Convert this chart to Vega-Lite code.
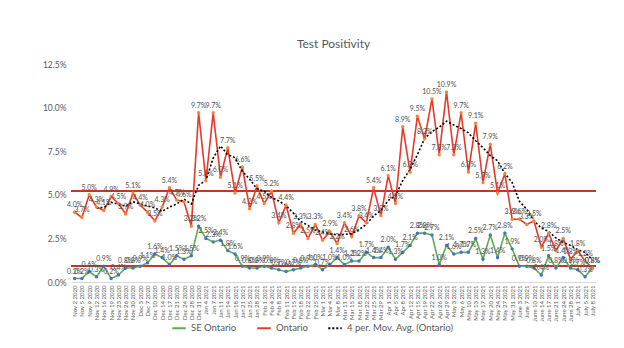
{
  "$schema": "https://vega.github.io/schema/vega-lite/v6.json",
  "autosize": {"type": "none"},
  "width": 525,
  "height": 218,
  "padding": {"left": 71, "top": 64, "right": 28, "bottom": 66},
  "background": "white",
  "title": {"text": "Test Positivity", "fontSize": 12, "font": "Lato", "fontWeight": "normal", "color": "#595959", "offset": 9},
  "data": {"values": [
    {"d":"Nov 2 2020","se":0.002,"on":0.040,"ma":null},
    {"d":"Nov 5 2020","se":0.002,"on":0.037,"ma":null},
    {"d":"Nov 9 2020","se":0.006,"on":0.050,"ma":null},
    {"d":"Nov 12 2020","se":0.003,"on":0.043,"ma":0.0425},
    {"d":"Nov 16 2020","se":0.009,"on":0.041,"ma":0.04275},
    {"d":"Nov 19 2020","se":0.002,"on":0.049,"ma":0.04575},
    {"d":"Nov 23 2020","se":0.004,"on":0.045,"ma":0.0445},
    {"d":"Nov 26 2020","se":0.008,"on":0.039,"ma":0.0435},
    {"d":"Nov 30 2020","se":0.008,"on":0.051,"ma":0.046},
    {"d":"Dec 3 2020","se":0.009,"on":0.044,"ma":0.04475},
    {"d":"Dec 7 2020","se":0.011,"on":0.040,"ma":0.0435},
    {"d":"Dec 10 2020","se":0.016,"on":0.035,"ma":0.0425},
    {"d":"Dec 14 2020","se":0.014,"on":0.043,"ma":0.0405},
    {"d":"Dec 17 2020","se":0.010,"on":0.054,"ma":0.043},
    {"d":"Dec 21 2020","se":0.015,"on":0.047,"ma":0.04475},
    {"d":"Dec 24 2020","se":0.013,"on":0.046,"ma":0.0475},
    {"d":"Dec 28 2020","se":0.015,"on":0.032,"ma":0.04475},
    {"d":"Dec 31 2020","se":0.032,"on":0.097,"ma":0.0555},
    {"d":"Jan 4 2021","se":0.025,"on":0.058,"ma":0.05825},
    {"d":"Jan 7 2021","se":0.023,"on":0.097,"ma":0.071},
    {"d":"Jan 11 2021","se":0.024,"on":0.060,"ma":0.078},
    {"d":"Jan 14 2021","se":0.018,"on":0.077,"ma":0.073},
    {"d":"Jan 18 2021","se":0.016,"on":0.051,"ma":0.07125},
    {"d":"Jan 21 2021","se":0.009,"on":0.066,"ma":0.0635},
    {"d":"Jan 25 2021","se":0.008,"on":0.042,"ma":0.059},
    {"d":"Jan 28 2021","se":0.008,"on":0.055,"ma":0.0535},
    {"d":"Feb 1 2021","se":0.009,"on":0.045,"ma":0.052},
    {"d":"Feb 4 2021","se":0.008,"on":0.052,"ma":0.0485},
    {"d":"Feb 8 2021","se":0.007,"on":0.034,"ma":0.0465},
    {"d":"Feb 11 2021","se":0.006,"on":0.044,"ma":0.04375},
    {"d":"Feb 15 2021","se":0.007,"on":0.028,"ma":0.0395},
    {"d":"Feb 18 2021","se":0.008,"on":0.033,"ma":0.03475},
    {"d":"Feb 22 2021","se":0.009,"on":0.025,"ma":0.0325},
    {"d":"Feb 25 2021","se":0.010,"on":0.033,"ma":0.02975},
    {"d":"Mar 1 2021","se":0.007,"on":0.024,"ma":0.02875},
    {"d":"Mar 4 2021","se":0.010,"on":0.029,"ma":0.02775},
    {"d":"Mar 8 2021","se":0.014,"on":0.022,"ma":0.027},
    {"d":"Mar 11 2021","se":0.010,"on":0.034,"ma":0.02725},
    {"d":"Mar 15 2021","se":0.012,"on":0.026,"ma":0.02775},
    {"d":"Mar 18 2021","se":0.012,"on":0.038,"ma":0.030},
    {"d":"Mar 22 2021","se":0.017,"on":0.034,"ma":0.033},
    {"d":"Mar 25 2021","se":0.014,"on":0.054,"ma":0.038},
    {"d":"Mar 29 2021","se":0.014,"on":0.038,"ma":0.041},
    {"d":"Apr 1 2021","se":0.020,"on":0.061,"ma":0.04675},
    {"d":"Apr 5 2021","se":0.013,"on":0.045,"ma":0.0495},
    {"d":"Apr 8 2021","se":0.017,"on":0.089,"ma":0.05825},
    {"d":"Apr 12 2021","se":0.021,"on":0.063,"ma":0.0645},
    {"d":"Apr 15 2021","se":0.028,"on":0.095,"ma":0.073},
    {"d":"Apr 19 2021","se":0.028,"on":0.082,"ma":0.08225},
    {"d":"Apr 22 2021","se":0.027,"on":0.105,"ma":0.08625},
    {"d":"Apr 26 2021","se":0.010,"on":0.073,"ma":0.08875},
    {"d":"Apr 29 2021","se":0.021,"on":0.109,"ma":0.09225},
    {"d":"May 3 2021","se":0.016,"on":0.073,"ma":0.090},
    {"d":"May 6 2021","se":0.017,"on":0.097,"ma":0.088},
    {"d":"May 10 2021","se":0.017,"on":0.063,"ma":0.0855},
    {"d":"May 13 2021","se":0.025,"on":0.091,"ma":0.081},
    {"d":"May 17 2021","se":0.013,"on":0.057,"ma":0.077},
    {"d":"May 20 2021","se":0.027,"on":0.079,"ma":0.0725},
    {"d":"May 24 2021","se":0.014,"on":0.051,"ma":0.0695},
    {"d":"May 27 2021","se":0.028,"on":0.062,"ma":0.06225},
    {"d":"May 31 2021","se":0.019,"on":0.036,"ma":0.057},
    {"d":"June 3 2021","se":0.009,"on":0.036,"ma":0.04625},
    {"d":"June 7 2021","se":0.009,"on":0.033,"ma":0.04175},
    {"d":"June 10 2021","se":0.008,"on":0.035,"ma":0.035},
    {"d":"June 14 2021","se":0.004,"on":0.020,"ma":0.031},
    {"d":"June 17 2021","se":0.015,"on":0.028,"ma":0.029},
    {"d":"June 21 2021","se":0.008,"on":0.018,"ma":0.02525},
    {"d":"June 24 2021","se":0.014,"on":0.025,"ma":0.02275},
    {"d":"June 28 2021","se":0.008,"on":0.013,"ma":0.021},
    {"d":"July 1 2021","se":0.007,"on":0.018,"ma":0.0185},
    {"d":"July 5 2021","se":0.003,"on":0.012,"ma":0.017},
    {"d":"July 8 2021","se":0.008,"on":0.008,"ma":0.01275}
  ]},
  "encoding": {
    "x": {"field": "d", "type": "ordinal", "sort": null,
      "scale": {"type": "point", "padding": 0.5},
      "axis": {"title": null, "labelAngle": -90, "labelFontSize": 6, "labelColor": "#595959", "labelFont": "Lato", "ticks": false, "domainColor": "#d9d9d9", "labelPadding": 3, "labelOverlap": false}
    }
  },
  "layer": [
    {
      "mark": {"type": "rule", "color": "#C0392B", "strokeWidth": 1.1},
      "encoding": {"x": null, "y": {"datum": 0.052, "type": "quantitative"}}
    },
    {
      "mark": {"type": "rule", "color": "#C0392B", "strokeWidth": 1.1},
      "encoding": {"x": null, "y": {"datum": 0.009, "type": "quantitative"}}
    },
    {
      "transform": [{"fold": ["se", "on", "ma"], "as": ["series", "value"]}],
      "mark": {"type": "line", "strokeWidth": 1.6},
      "encoding": {
        "y": {"field": "value", "type": "quantitative",
          "scale": {"domain": [0, 0.125], "nice": false},
          "axis": {"title": null, "format": ".1%", "values": [0, 0.025, 0.05, 0.075, 0.1, 0.125], "gridColor": "#d9d9d9", "domain": false, "ticks": false, "labelColor": "#595959", "labelFontSize": 8.5, "labelFont": "Lato", "labelPadding": 5}
        },
        "color": {"field": "series", "type": "nominal",
          "scale": {"domain": ["se", "on", "ma"], "range": ["#5AAE4F", "#E5392A", "#000000"]},
          "legend": {"title": null, "orient": "none", "legendX": 100, "legendY": 256, "direction": "horizontal",
            "labelExpr": "datum.label == 'se' ? 'SE Ontario' : datum.label == 'on' ? 'Ontario' : '4 per. Mov. Avg. (Ontario)'",
            "symbolType": "stroke", "symbolSize": 180, "symbolStrokeWidth": 1.8, "labelFontSize": 9.5, "labelFont": "Lato", "labelColor": "#595959", "columnPadding": 16}
        },
        "strokeDash": {"field": "series", "type": "nominal",
          "scale": {"domain": ["se", "on", "ma"], "range": [[1, 0], [1, 0], [2, 2]]}},
        "strokeWidth": {"condition": {"test": "datum.series === 'ma'", "value": 2.2}, "value": 1.6}
      }
    },
    {
      "transform": [{"fold": ["se", "on"], "as": ["series", "value"]}],
      "mark": {"type": "circle", "size": 12, "opacity": 1},
      "encoding": {
        "y": {"field": "value", "type": "quantitative"},
        "fill": {"field": "series", "type": "nominal",
          "scale": {"domain": ["se", "on"], "range": ["#4472C4", "#F0883A"]}, "legend": null}
      }
    },
    {
      "transform": [{"fold": ["se", "on"], "as": ["series", "value"]}],
      "mark": {"type": "text", "dy": -7, "fontSize": 7, "font": "Lato", "color": "#505050"},
      "encoding": {
        "y": {"field": "value", "type": "quantitative"},
        "text": {"field": "value", "type": "quantitative", "format": ".1%"}
      }
    }
  ],
  "config": {"view": {"stroke": null}}
}
